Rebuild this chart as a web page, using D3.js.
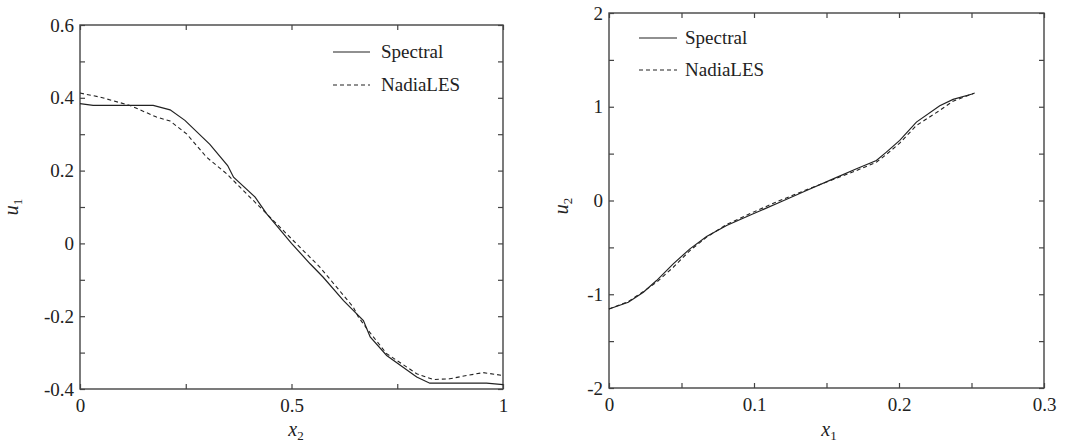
<!DOCTYPE html>
<html>
<head>
<meta charset="utf-8">
<script src="https://cdn.jsdelivr.net/npm/d3@7"></script>
<style>
  html, body { margin:0; padding:0; background:#fff; }
  .frame { fill:none; stroke:#444; stroke-width:1.4; }
</style>
</head>
<body>
<svg id="chart" width="1080" height="446"></svg>
<script>
// --- Data ---
// left panel: u1 vs x2
const leftSpectralX = [0, 0.031, 0.173, 0.213, 0.248, 0.307, 0.349, 0.363, 0.414, 0.441, 0.5, 0.544, 0.575, 0.623, 0.670, 0.686, 0.725, 0.796, 0.827, 0.961, 1];
const leftSpectralY = [0.384, 0.379, 0.379, 0.367, 0.338, 0.272, 0.214, 0.182, 0.127, 0.082, 0.0, -0.056, -0.093, -0.157, -0.212, -0.257, -0.308, -0.367, -0.384, -0.384, -0.388];
const leftNadiaX = [0, 0.047, 0.118, 0.181, 0.213, 0.252, 0.299, 0.347, 0.394, 0.433, 0.504, 0.567, 0.646, 0.658, 0.678, 0.725, 0.796, 0.835, 0.874, 0.914, 0.953, 1];
const leftNadiaY = [0.413, 0.402, 0.379, 0.347, 0.336, 0.301, 0.237, 0.191, 0.136, 0.091, 0.008, -0.065, -0.175, -0.202, -0.234, -0.303, -0.358, -0.374, -0.372, -0.363, -0.355, -0.363];

// right panel: u2 vs x1
const rightSpectralX = [0, 0.0133, 0.0237, 0.0328, 0.0443, 0.0558, 0.0673, 0.0811, 0.0995, 0.1178, 0.1362, 0.1546, 0.1707, 0.1844, 0.1913, 0.2005, 0.212, 0.2281, 0.2373, 0.2511];
const rightSpectralY = [-1.157, -1.085, -0.979, -0.854, -0.676, -0.516, -0.384, -0.267, -0.142, -0.018, 0.107, 0.231, 0.338, 0.427, 0.516, 0.641, 0.836, 1.011, 1.078, 1.139];
const rightNadiaX = [0, 0.0133, 0.0237, 0.0328, 0.0443, 0.0558, 0.0673, 0.0811, 0.0995, 0.1178, 0.1362, 0.1546, 0.1707, 0.1844, 0.1913, 0.2005, 0.212, 0.2281, 0.2373, 0.2522];
const rightNadiaY = [-1.157, -1.078, -0.971, -0.872, -0.712, -0.534, -0.391, -0.256, -0.124, 0.0, 0.114, 0.224, 0.320, 0.409, 0.491, 0.612, 0.800, 0.961, 1.060, 1.146];

// ticks
const leftXTicks = [0, 0.25, 0.5, 0.75, 1];
const leftXLabels = [0, 0.5, 1];
const leftYTicks = [-0.4, -0.3, -0.2, -0.1, 0, 0.1, 0.2, 0.3, 0.4, 0.5, 0.6];
const leftYLabels = [-0.4, -0.2, 0, 0.2, 0.4, 0.6];
const rightXTicks = [0, 0.05, 0.1, 0.15, 0.2, 0.25, 0.3];
const rightXLabels = [0, 0.1, 0.2, 0.3];
const rightYTicks = [-2, -1.5, -1, -0.5, 0, 0.5, 1, 1.5, 2];
const rightYLabels = [-2, -1, 0, 1, 2];

const seriesNames = ["Spectral", "NadiaLES"];

// --- Layout ---
const FONT = "Liberation Serif, Tinos, Times New Roman, Times, Nimbus Roman, Nimbus Roman No9 L, FreeSerif, Noto Serif, DejaVu Serif, serif";
const INK = "#222";
const svg = d3.select("#chart").style("font-family", FONT);
const TICK = 5;

const panels = [
  { box:{l:80, r:503, t:25, b:389}, xDom:[0,1], yDom:[-0.4,0.6],
    xTicks:leftXTicks, xLabels:leftXLabels, yTicks:leftYTicks, yLabels:leftYLabels,
    spec:[leftSpectralX, leftSpectralY], nadia:[leftNadiaX, leftNadiaY],
    xName:"x", xSub:"2", yName:"u", ySub:"1",
    xLabelPos:[296, 436], yLabelPos:[18, 207],
    legend:{x1:333, x2:370, tx:381, y:[52, 85]} },
  { box:{l:609, r:1044, t:13, b:388}, xDom:[0,0.3], yDom:[-2,2],
    xTicks:rightXTicks, xLabels:rightXLabels, yTicks:rightYTicks, yLabels:rightYLabels,
    spec:[rightSpectralX, rightSpectralY], nadia:[rightNadiaX, rightNadiaY],
    xName:"x", xSub:"1", yName:"u", ySub:"2",
    xLabelPos:[829, 436], yLabelPos:[568, 206],
    legend:{x1:639, x2:677, tx:685, y:[38, 70]} }
];

const fmt = v => String(+v.toFixed(3));   // plain hyphen minus
const has = (arr, v) => arr.some(a => Math.abs(a - v) < 1e-9);

panels.forEach(p => {
  const {l, r, t, b} = p.box;
  const x = d3.scaleLinear().domain(p.xDom).range([l, r]);
  const y = d3.scaleLinear().domain(p.yDom).range([b, t]);

  // axes: ticks inward on all four sides
  const ax = svg.append("g");
  ax.append("g").attr("transform", `translate(0,${b})`)
    .call(d3.axisBottom(x).tickValues(p.xTicks).tickSizeInner(-TICK).tickSizeOuter(0)
      .tickPadding(10).tickFormat(d => has(p.xLabels, d) ? fmt(d) : ""));
  ax.append("g").attr("transform", `translate(0,${t})`)
    .call(d3.axisTop(x).tickValues(p.xTicks).tickSizeInner(-TICK).tickSizeOuter(0).tickFormat(""));
  ax.append("g").attr("transform", `translate(${l},0)`)
    .call(d3.axisLeft(y).tickValues(p.yTicks).tickSizeInner(-TICK).tickSizeOuter(0)
      .tickPadding(6).tickFormat(d => has(p.yLabels, d) ? fmt(d) : ""));
  ax.append("g").attr("transform", `translate(${r},0)`)
    .call(d3.axisRight(y).tickValues(p.yTicks).tickSizeInner(-TICK).tickSizeOuter(0).tickFormat(""));
  ax.selectAll("g").attr("font-family", null).attr("font-size", 19);
  ax.selectAll(".domain").remove();
  ax.selectAll(".tick text").attr("fill", INK).style("font-family", FONT);
  ax.selectAll(".tick line").attr("stroke", "#444").attr("stroke-width", 1.2);

  svg.append("rect").attr("class", "frame")
    .attr("x", l).attr("y", t).attr("width", r - l).attr("height", b - t);

  // curves
  const line = d3.line().x(d => x(d[0])).y(d => y(d[1]));
  const toPts = ([xs, ys]) => xs.map((v, i) => [v, ys[i]]);
  svg.append("path").datum(toPts(p.spec)).attr("d", line)
    .attr("fill", "none").attr("stroke", INK).attr("stroke-width", 1.2);
  svg.append("path").datum(toPts(p.nadia)).attr("d", line)
    .attr("fill", "none").attr("stroke", INK).attr("stroke-width", 1.1)
    .attr("stroke-dasharray", "4,3");

  // legend
  const lg = p.legend;
  seriesNames.forEach((name, i) => {
    svg.append("line").attr("x1", lg.x1).attr("x2", lg.x2)
      .attr("y1", lg.y[i]).attr("y2", lg.y[i])
      .attr("stroke", INK).attr("stroke-width", 1.2)
      .attr("stroke-dasharray", i === 1 ? "4,3" : null);
    svg.append("text").attr("x", lg.tx).attr("y", lg.y[i] + 6)
      .attr("font-size", 19).attr("fill", INK).style("font-family", FONT).text(name);
  });

  // axis titles
  const xt = svg.append("text").attr("x", p.xLabelPos[0]).attr("y", p.xLabelPos[1])
    .attr("text-anchor", "middle").attr("font-size", 20).attr("fill", INK).style("font-family", FONT);
  xt.append("tspan").attr("font-style", "italic").text(p.xName);
  xt.append("tspan").attr("dy", 4).attr("font-size", 13).text(p.xSub);

  const yt = svg.append("text")
    .attr("transform", `translate(${p.yLabelPos[0]},${p.yLabelPos[1]}) rotate(-90)`)
    .attr("text-anchor", "middle").attr("font-size", 20).attr("fill", INK).style("font-family", FONT);
  yt.append("tspan").attr("font-style", "italic").text(p.yName);
  yt.append("tspan").attr("dy", 4).attr("font-size", 13).text(p.ySub);
});
</script>
</body>
</html>
